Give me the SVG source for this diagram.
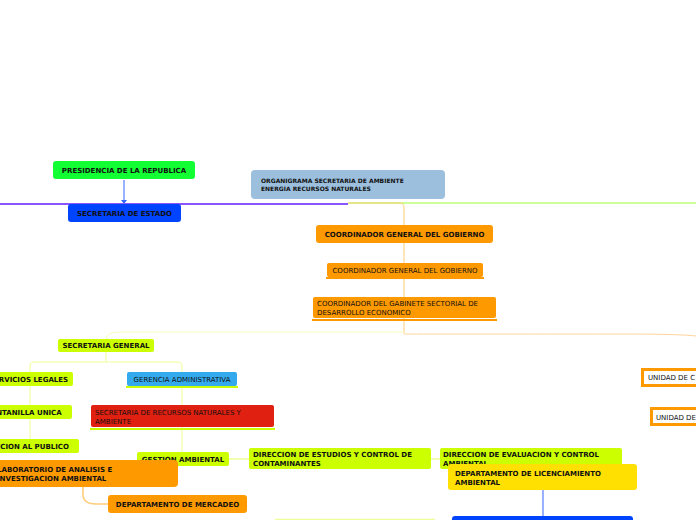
<svg xmlns="http://www.w3.org/2000/svg" width="696" height="520" viewBox="0 0 696 520">
<style>
text{font-family:"DejaVu Sans",Verdana,sans-serif;font-size:7px;fill:#111}
.b{font-weight:bold}
</style>
<rect width="696" height="520" fill="#fff"/>
<g id="connectors" fill="none">
<line x1="0" y1="204" x2="348" y2="204" stroke="#8855ff" stroke-width="2"/>
<line x1="348" y1="203" x2="696" y2="203" stroke="#bbff77" stroke-width="1.5"/>
<line x1="124" y1="180" x2="124" y2="201" stroke="#7799ff" stroke-width="1.5"/>
<path d="M121,200 L124,204 L127,200 Z" fill="#3366ff"/>
<path d="M348,203 L400,203 Q404,203 404,208 L404,332" stroke="#ffcc77" stroke-width="1"/>
<path d="M404,332 L404,334 Q420,334 620,334 Q680,334 696,336" stroke="#ffd499" stroke-width="1"/>
<path d="M404,332 L120,332 Q106,332 106,340" stroke="#f4ffbb" stroke-width="1"/>
<path d="M106,352 L106,362 M30,446 L30,366 Q30,362 34,362 L178,362 Q182,362 182,366 L182,452" stroke="#eeff99" stroke-width="1"/>
<line x1="229" y1="459" x2="249" y2="459" stroke="#eeff99" stroke-width="1.5"/>
<line x1="431" y1="459" x2="440" y2="459" stroke="#eeff99" stroke-width="1.5"/>
<path d="M83,487 L83,494 Q83,504 96,504 L108,504" stroke="#ffcc77" stroke-width="1.5"/>
<line x1="543" y1="490" x2="543" y2="516" stroke="#7799ff" stroke-width="1.5"/>
<line x1="275" y1="519.5" x2="435" y2="519.5" stroke="#eeff99" stroke-width="1.5"/>
</g>
<g id="presidencia"><rect x="53" y="161" width="142" height="18" rx="3" fill="#11ff33"/><text class="b" x="124" y="173" text-anchor="middle">PRESIDENCIA DE LA REPUBLICA</text></g>
<g id="estado"><rect x="68" y="204" width="113" height="18" rx="3" fill="#0044ff"/><text class="b" x="124.5" y="216" text-anchor="middle">SECRETARIA DE ESTADO</text></g>
<g id="organigrama"><rect x="251" y="170" width="194" height="29" rx="4" fill="#9bbfdd"/><text class="b" x="261" y="183" style="font-size:6px">ORGANIGRAMA SECRETARIA DE AMBIENTE</text><text class="b" x="261" y="191" style="font-size:6px">ENERGIA RECURSOS NATURALES</text></g>
<g id="coord1"><rect x="316" y="225" width="177" height="18" rx="3" fill="#ff9900"/><text class="b" x="404.5" y="237" text-anchor="middle">COORDINADOR GENERAL DEL GOBIERNO</text></g>
<g id="coord2"><rect x="327" y="263" width="156" height="14" rx="2" fill="#ff9900"/><rect x="326" y="277" width="158" height="2" fill="#ff9900"/><text x="405" y="273" text-anchor="middle">COORDINADOR GENERAL DEL GOBIERNO</text></g>
<g id="coord3"><rect x="313" y="297" width="183" height="21" rx="2" fill="#ff9900"/><rect x="312" y="319" width="185" height="2" fill="#ff9900"/><text x="317" y="306">COORDINADOR DEL GABINETE SECTORIAL DE</text><text x="317" y="315">DESARROLLO ECONOMICO</text></g>
<g id="secgeneral"><rect x="58" y="339" width="96" height="13" rx="2" fill="#ccff00"/><text class="b" x="106" y="348" text-anchor="middle">SECRETARIA GENERAL</text></g>
<g id="legales"><rect x="-30" y="372" width="103" height="14" rx="2" fill="#ccff00"/><text class="b" x="-11" y="382">SERVICIOS LEGALES</text></g>
<g id="ventanilla"><rect x="-30" y="405" width="102" height="14" rx="2" fill="#ccff00"/><text class="b" x="-14" y="415">VENTANILLA UNICA</text></g>
<g id="atencion"><rect x="-30" y="439" width="109" height="14" rx="2" fill="#ccff00"/><text class="b" x="-20" y="449">ATENCION AL PUBLICO</text></g>
<g id="gerencia"><rect x="127" y="372" width="110" height="14" rx="2" fill="#33aaee"/><rect x="126" y="386" width="112" height="2" fill="#ccff00"/><text x="182" y="382" text-anchor="middle">GERENCIA ADMINISTRATIVA</text></g>
<g id="recursos"><rect x="91" y="405" width="183" height="22" rx="2" fill="#e02010"/><rect x="90" y="428" width="185" height="2" fill="#ccff00"/><text x="95" y="415">SECRETARIA DE RECURSOS NATURALES Y</text><text x="95" y="424">AMBIENTE</text></g>
<g id="gestion"><rect x="137" y="452" width="92" height="14" rx="2" fill="#ccff00"/><text class="b" x="183" y="462" text-anchor="middle">GESTION AMBIENTAL</text></g>
<g id="laboratorio"><rect x="-20" y="460" width="198" height="27" rx="4" fill="#ff9900"/><text class="b" x="-3" y="472">LABORATORIO DE ANALISIS E</text><text class="b" x="-3" y="481">INVESTIGACION AMBIENTAL</text></g>
<g id="mercadeo"><rect x="108" y="495" width="139" height="18" rx="3" fill="#ff9900"/><text class="b" x="177.5" y="507" text-anchor="middle">DEPARTAMENTO DE MERCADEO</text></g>
<g id="estudios"><rect x="249" y="448" width="182" height="21" rx="2" fill="#ccff00"/><text class="b" x="253" y="457">DIRECCION DE ESTUDIOS Y CONTROL DE</text><text class="b" x="253" y="466">CONTAMINANTES</text></g>
<g id="evaluacion"><rect x="440" y="448" width="182" height="21" rx="2" fill="#ccff00"/><text class="b" x="443" y="457">DIRECCION DE EVALUACION Y CONTROL</text><text class="b" x="443" y="466">AMBIENTAL</text></g>
<g id="licenciamiento"><rect x="448" y="464" width="189" height="26" rx="3" fill="#ffe000"/><text class="b" x="455" y="476">DEPARTAMENTO DE LICENCIAMIENTO</text><text class="b" x="455" y="485">AMBIENTAL</text></g>
<g id="azul"><rect x="452" y="516" width="181" height="20" rx="3" fill="#0044ff"/></g>
<g id="unidad1"><rect x="642.5" y="369.5" width="80" height="16" fill="#fff" stroke="#ff9900" stroke-width="3"/><text x="648" y="380">UNIDAD DE C</text></g>
<g id="unidad2"><rect x="651.5" y="408.5" width="80" height="16" fill="#fff" stroke="#ff9900" stroke-width="3"/><text x="656" y="420">UNIDAD DE</text></g>
</svg>
